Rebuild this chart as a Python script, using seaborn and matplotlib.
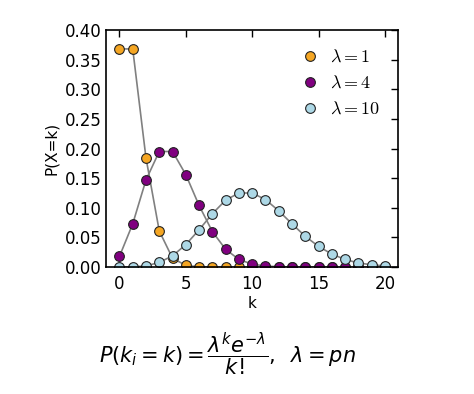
import numpy as np
import pandas as pd
import matplotlib
matplotlib.use("Agg")
import matplotlib.pyplot as plt
import seaborn as sns
from matplotlib.lines import Line2D
from matplotlib.font_manager import FontProperties

# values, k = 0..20
k_values = list(range(21))
p_lam1 = [0.368, 0.368, 0.184, 0.061, 0.015, 0.003, 0.0005, 0.0001, 0.0, 0.0,
          0.0, 0.0, 0.0, 0.0, 0.0, 0.0, 0.0, 0.0, 0.0, 0.0, 0.0]
p_lam4 = [0.018, 0.073, 0.147, 0.195, 0.195, 0.156, 0.104, 0.060, 0.030, 0.013,
          0.005, 0.002, 0.0006, 0.0002, 0.0001, 0.0, 0.0, 0.0, 0.0, 0.0, 0.0]
p_lam10 = [0.00005, 0.0005, 0.002, 0.008, 0.019, 0.038, 0.063, 0.090, 0.113, 0.125,
           0.125, 0.114, 0.095, 0.073, 0.052, 0.035, 0.022, 0.013, 0.007, 0.004, 0.002]
series_labels = [r"$\lambda=1$", r"$\lambda=4$", r"$\lambda=10$"]
series_colors = ["#F5A623", "#800080", "#ADD8E6"]

df = pd.DataFrame({"k": k_values * 3,
                   "p": p_lam1 + p_lam4 + p_lam10,
                   "lam": sum([[lab] * len(k_values) for lab in series_labels], [])})

sns.set_style("white")
plt.rcParams["font.family"] = ["DejaVu Sans"]
plt.rcParams["text.color"] = "black"
plt.rcParams["axes.labelcolor"] = "black"
plt.rcParams["xtick.color"] = "black"
plt.rcParams["ytick.color"] = "black"

fig = plt.figure(figsize=(4.74, 3.94), dpi=100)
ax = fig.add_axes([0.224, 0.322, 0.616, 0.602])

for lab, col in zip(series_labels, series_colors):
    sub = df[df["lam"] == lab]
    sns.lineplot(data=sub, x="k", y="p", ax=ax, color="gray", linewidth=1.2,
                 marker="o", markersize=7, markerfacecolor=col,
                 markeredgecolor="#222222", markeredgewidth=0.8, legend=False)

ax.set_xlim(-1, 21)
ax.set_ylim(0, 0.40)
ax.set_xticks([0, 5, 10, 15, 20])
ax.set_yticks(np.arange(0, 0.401, 0.05))
ax.set_yticklabels([f"{v:.2f}" for v in np.arange(0, 0.401, 0.05)])
ax.tick_params(direction="in", top=True, right=True, length=5, width=1,
               labelsize=12)
ax.tick_params(axis="x", pad=6)
for s in ax.spines.values():
    s.set_color("black")
    s.set_linewidth(1.2)
ax.set_xlabel("k", fontsize=11, labelpad=2)
ax.set_ylabel("P(X=k)", fontsize=11, labelpad=4)

handles = [Line2D([], [], linestyle="none", marker="o", markersize=7,
                  markerfacecolor=c, markeredgecolor="#222222", markeredgewidth=0.8)
           for c in series_colors]
ax.legend(handles, series_labels, loc="upper right", frameon=False,
          prop=FontProperties(size=13, math_fontfamily="cm"),
          handlelength=0.8, handletextpad=0.7, labelspacing=0.45, borderaxespad=0.6)

fig.text(0.48, 0.10, r"$P(k_i = k) = \dfrac{\lambda^k e^{-\lambda}}{k!},\;\; \lambda = pn$",
         ha="center", va="center", fontsize=15, math_fontfamily="dejavusans")

fig.savefig("out.png", dpi=100, facecolor="white")
